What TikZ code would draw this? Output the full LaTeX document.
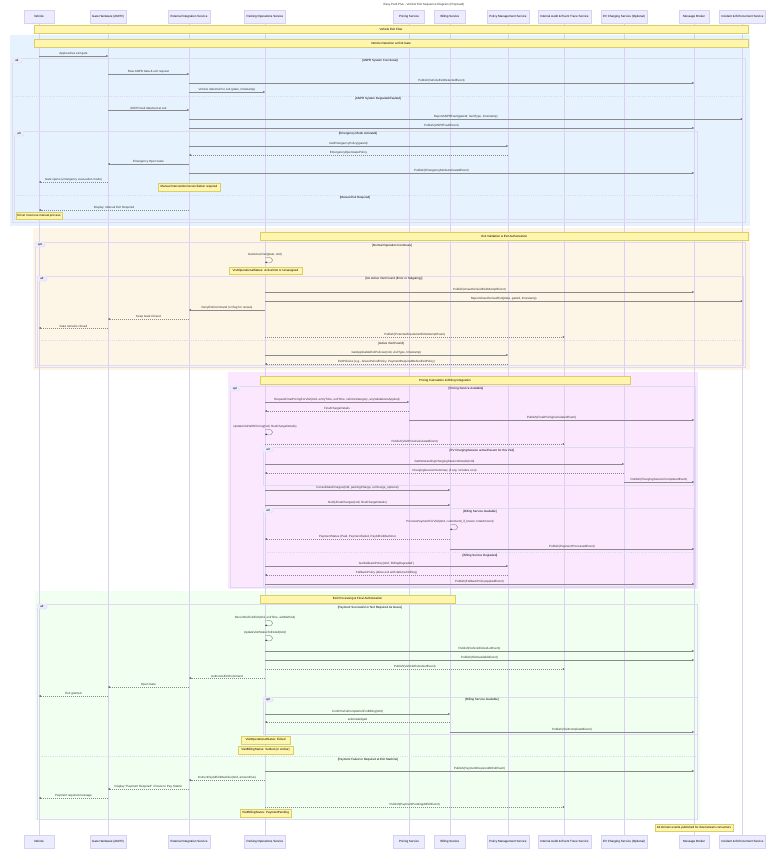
\documentclass[tikz,border=0pt]{standalone}
\usepackage{fontspec}
\setmainfont{Liberation Sans}
\usetikzlibrary{arrows.meta,calc}
\definecolor{partfill}{HTML}{ECECFF}
\definecolor{actline}{HTML}{D9D0F3}
\definecolor{frline}{HTML}{DFD9F1}
\definecolor{sigc}{HTML}{333333}
\definecolor{sigl}{HTML}{8A8A8A}
\definecolor{notefill}{HTML}{FFF5AD}
\definecolor{notedraw}{HTML}{D8CF6A}
\definecolor{blueR}{HTML}{E6F3FE}
\definecolor{beigeR}{HTML}{FDF5E6}
\definecolor{pinkR}{HTML}{FCE8FE}
\definecolor{greenR}{HTML}{F0FFF0}
\newcommand\smsg[4]{\draw[msg] (#1 |- 0,#3) -- node[lbl]{#4} (#2 |- 0,#3);}
\newcommand\dmsg[4]{\draw[msg,dashmsg] (#1 |- 0,#3) -- node[lbl]{#4} (#2 |- 0,#3);}
\newcommand\selfm[3]{\coordinate (s) at (#1 |- 0,#2);
  \draw[msg] (s) .. controls ($(s)+(10,-3)$) and ($(s)+(10,7)$) .. ($(s)+(0,4)$);
  \node[lbl,anchor=south] at ($(s)+(0,-1)$) {#3};}
\newcommand\frbox[5]{\draw[frameln] (#1,#2) rectangle (#3,#4);
  \draw[frameln,fill=partfill] (#1,#2) -- ++(10,0) -- ++(0,3.5) -- ++(-1.5,1.5) -- ++(-8.5,0) -- cycle;
  \node[guard] at (#1+5,#2+2.6) {#5};}
\newcommand\guardtxt[3]{\node[guard] at (#1,#2) {#3};}
\newcommand\elseline[3]{\draw[frameln,dash pattern=on 1.2pt off 1pt] (#1,#3) -- (#2,#3);}
\begin{document}
\begin{tikzpicture}[x=1pt,y=-1pt,
  font=\fontsize{3}{3.6}\selectfont,
  part/.style={draw=actline, fill=partfill, line width=0.3pt, minimum height=13pt, inner sep=0.5pt, text=black},
  life/.style={draw=actline, line width=0.6pt},
  msg/.style={draw=sigl, line width=0.4pt, -{Triangle[length=1.7pt,width=1.5pt,color=sigc]}},
  dashmsg/.style={dash pattern=on 1pt off 1pt},
  lbl/.style={above, inner sep=0.7pt, text=sigc},
  notebox/.style={draw=notedraw, fill=notefill, line width=0.3pt, inner sep=0pt, text=black},
  frameln/.style={draw=frline, line width=0.4pt},
  guard/.style={inner sep=0pt, text=black}]
\useasboundingbox (0,0) rectangle (784,860);
\fill[white] (0,0) rectangle (784,860);
% title
\node[inner sep=0pt, text=sigc] (title) at (424,4.5) {Easy Park Plus - Vehicle Exit Sequence Diagram (Proposed)};
% regions
\fill[blueR] (10,35) rectangle (750,226);
\fill[beigeR] (33,228) rectangle (750,370);
\fill[pinkR] (228,372) rectangle (698,589);
\fill[greenR] (35,591) rectangle (700,820);
% participants
\foreach \n/\x/\w/\t in {veh/39/30/Vehicle, gate/108/36/Gate Hardware (ANPR), ext/189/42/External Integration Service, ops/265/41/Parking Operations Service, price/409/31/Pricing Service, bill/450/31/Billing Service, pol/508/42/Policy Management Service, audit/564.5/53/Internal Audit \& Event Trace Service, ev/624/46/EV Charging Service (Optional), broker/694/30/Message Broker, inc/742.5/46/Incident \& Enforcement Service}{
  \node[part, minimum width=\w pt] (\n) at (\x,16.5) {\t};
  \node[part, minimum width=\w pt] (\n B) at (\x,841.5) {\t};
  \draw[life] (\n.south) -- (\n B.north);
}
% ---------- notes, section 1
\node[notebox, minimum width=714pt, minimum height=8pt] (n1) at (391,29) {Vehicle Exit Flow};
\node[notebox, minimum width=714pt, minimum height=8pt] (n2) at (391,43) {Vehicle Detection at Exit Gate};
% frames section 1
\frbox{12}{58}{745}{222}{alt}
\guardtxt{380}{61}{[ANPR System Functional]}
\elseline{12}{745}{96}
\guardtxt{378}{99}{[ANPR System Degraded/Faulted]}
\frbox{14}{131}{697}{219}{alt}
\guardtxt{358}{134}{[Emergency Mode Activated]}
\elseline{14}{697}{195}
\guardtxt{355}{198}{[Manual Exit Required]}
\smsg{veh}{gate}{56}{Approaches exit gate}
\smsg{gate}{ext}{74}{Raw ANPR data \& exit request}
\smsg{ext}{broker}{83}{Publish(VehicleExitDetectedEvent)}
\smsg{ext}{ops}{92}{Vehicle detected for exit (plate, timestamp)}
\smsg{gate}{ext}{110}{ANPR fault detected at exit}
\smsg{ext}{inc}{119}{ReportANPRFault(gateId, faultType, timestamp)}
\smsg{ext}{broker}{128}{Publish(ANPRFaultEvent)}
\smsg{ext}{pol}{146}{GetEmergencyPolicy(gateId)}
\dmsg{pol}{ext}{155}{EmergencyOpenGatePolicy}
\smsg{ext}{gate}{164}{Emergency Open Gate}
\smsg{ext}{broker}{173}{Publish(EmergencyModeActivatedEvent)}
\dmsg{gate}{veh}{182}{Gate opens (emergency evacuation mode)}
\node[notebox, minimum width=62pt, minimum height=8pt] (n3) at (189,187) {Manual Intervention/reconciliation required};
\dmsg{ext}{veh}{210}{Display: Manual Exit Required}
\node[notebox, minimum width=46pt, minimum height=7pt] (n4) at (39,215.5) {Driver must use manual process};
% ---------- section 2
\node[notebox, minimum width=488pt, minimum height=8pt] (n5) at (504,236) {Visit Validation \& Exit Authorization};
\frbox{35}{242}{745}{367}{opt}
\guardtxt{392}{245.5}{[Normal Operation Continues]}
\selfm{ops}{258}{GetActiveVisit(plate, txId)}
\node[notebox, minimum width=73pt, minimum height=7pt] (n6) at (265.5,270.5) {VisitOperationalStatus: ActiveVisit or Unassigned};
\frbox{37}{276}{743}{365}{alt}
\guardtxt{394}{279}{[No Active Visit Found (Error or Tailgating)]}
\smsg{ops}{broker}{292}{Publish(UnauthorizedExitAttemptEvent)}
\smsg{ops}{inc}{301}{ReportUnauthorizedExit(plate, gateId, timestamp)}
\smsg{ops}{ext}{310}{DenyExitCommand (or flag for review)}
\dmsg{ext}{gate}{319}{Keep Gate Closed}
\dmsg{gate}{veh}{328}{Gate remains closed}
\dmsg{ops}{audit}{337}{Publish(PotentialFraudulentExitAttemptEvent)}
\elseline{37}{743}{340}
\guardtxt{391}{343.5}{[Active Visit Found]}
\smsg{ops}{pol}{355}{GetApplicableExitPolicies(txId, visitType, timestamp)}
\dmsg{pol}{ops}{364}{ExitPolicies (e.g., GracePeriodPolicy, PaymentRequiredBeforeExitPolicy)}
% ---------- section 3
\node[notebox, minimum width=370pt, minimum height=8pt] (n7) at (445,380.5) {Pricing Calculation \& Billing Integration};
\frbox{230}{386}{695}{587}{opt}
\guardtxt{466}{389}{[Pricing Service Available]}
\smsg{ops}{price}{402}{RequestFinalPricingForVisit(txId, entryTime, exitTime, vehicleCategory, anyValidationsApplied)}
\dmsg{price}{ops}{411}{FinalChargeDetails}
\smsg{price}{broker}{420}{Publish(FinalPricingCalculatedEvent)}
\selfm{ops}{430}{UpdateVisitWithPricing(txId, finalChargeDetails)}
\dmsg{ops}{audit}{444}{Publish(VisitPriceCalculatedEvent)}
\frbox{263}{447}{693}{485}{alt}
\guardtxt{482}{450.5}{[EV ChargingSession active/Recent for this Visit]}
\smsg{ops}{ev}{464}{GetOutstandingChargingSessionDetails(txId)}
\dmsg{ev}{ops}{473}{ChargingSessionSummary (if any, includes cost)}
\smsg{ev}{broker}{482}{Publish(ChargingSessionCompletedEvent)}
\smsg{ops}{bill}{490}{ConsolidateCharges(txId, parkingCharge, evCharge\_optional)}
\smsg{ops}{bill}{505}{NotifyFinalCharges(txId, finalChargeDetails)}
\frbox{263}{508}{693}{586}{alt}
\guardtxt{480}{511.5}{[Billing Service Available]}
\selfm{bill}{525}{ProcessPaymentForVisit(txId, customerId\_if\_known, totalAmount)}
\dmsg{bill}{ops}{539}{PaymentStatus (Paid, PaymentFailed, PayAtExitMachine)}
\smsg{bill}{broker}{549}{Publish(PaymentProcessedEvent)}
\elseline{263}{693}{552}
\guardtxt{480}{555.5}{[Billing Service Degraded]}
\smsg{ops}{pol}{566}{GetFallbackPolicy(txId, 'BillingDegraded')}
\dmsg{pol}{ops}{575}{FallbackPolicy (allow exit with deferred billing)}
\smsg{ops}{broker}{584}{Publish(FallbackPolicyAppliedEvent)}
% ---------- section 4
\node[notebox, minimum width=195pt, minimum height=8pt] (n8) at (357.5,599) {Exit Processing \& Final Authorization};
\frbox{37}{604}{697}{819}{alt}
\guardtxt{370}{608}{[Payment Successful or Not Required As Grace]}
\selfm{ops}{621}{RecordVehicleExit(txId, exitTime, exitMethod)}
\selfm{ops}{636}{UpdateVisitStatusToExited(txId)}
\smsg{ops}{broker}{651}{Publish(VehicleExitedLotEvent)}
\smsg{ops}{broker}{660}{Publish(SlotAvailableEvent)}
\dmsg{ops}{audit}{669}{Publish(VehicleExitedLotEvent)}
\dmsg{ops}{ext}{678}{AuthorizeExitCommand}
\dmsg{ext}{gate}{687}{Open Gate}
\dmsg{gate}{veh}{696}{Exit granted}
\frbox{263}{697}{697}{734}{opt}
\guardtxt{482}{699.5}{[Billing Service Available]}
\smsg{ops}{bill}{714}{ConfirmVisitCompletionForBilling(txId)}
\dmsg{bill}{ops}{722}{acknowledged}
\smsg{bill}{broker}{732}{Publish(VisitCompletedEvent)}
\node[notebox, minimum width=49pt, minimum height=8pt] (n9) at (265.5,740) {VisitOperationalStatus: Exited};
\node[notebox, minimum width=55pt, minimum height=8pt] (n10) at (265.5,750) {VisitBillingStatus: Settled (or similar)};
\elseline{37}{697}{756}
\guardtxt{368}{759.5}{[Payment Failed or Required at Exit Machine]}
\smsg{ops}{broker}{771}{Publish(PaymentRequiredAtExitEvent)}
\dmsg{ops}{ext}{780}{InstructPayAtExitMachine(txId, amountDue)}
\dmsg{ext}{gate}{789}{Display "Payment Required" / Route to Pay Station}
\dmsg{gate}{veh}{798}{Payment required message}
\dmsg{ops}{audit}{807}{Publish(PaymentPendingAtExitEvent)}
\node[notebox, minimum width=51pt, minimum height=8pt] (n11) at (265.5,813) {VisitBillingStatus: PaymentPending};
\node[notebox, minimum width=78pt, minimum height=7pt] (n12) at (694,827.5) {All domain events published for downstream consumers};
\end{tikzpicture}
\end{document}
